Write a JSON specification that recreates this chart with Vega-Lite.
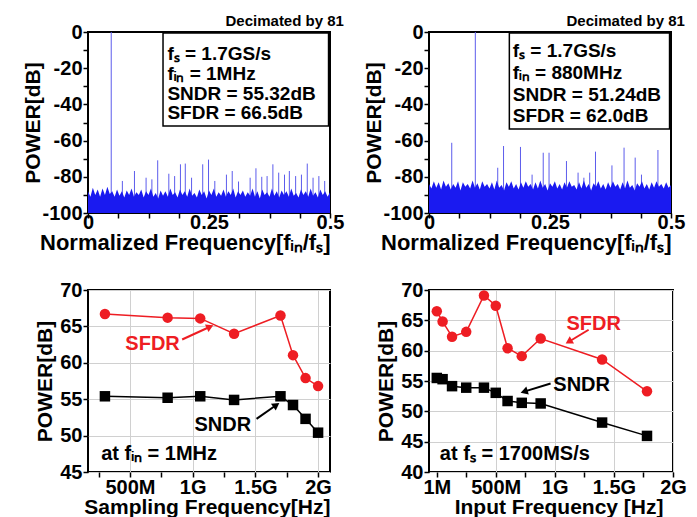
{
"$schema": "https://vega.github.io/schema/vega-lite/v6.json",
"background": "white",
"padding": {"left": 21, "top": 13, "right": 0, "bottom": 0},
"spacing": {"row": 25, "column": 17},
"columns": 2,
"datasets": {
"noise": [
{"f":0,"a":-88,"b":-84},{"f":0.005,"a":-91,"b":-86.5},{"f":0.01,"a":-86,"b":-82.5},{"f":0.015,"a":-90,"b":-86},{"f":0.02,"a":-87,"b":-83},
{"f":0.025,"a":-91,"b":-87},{"f":0.03,"a":-86.5,"b":-82},{"f":0.035,"a":-90,"b":-85.5},{"f":0.04,"a":-85.5,"b":-83.5},{"f":0.045,"a":-89.5,"b":-87},
{"f":0.05,"a":-88,"b":-84},{"f":0.055,"a":-91,"b":-86},{"f":0.06,"a":-87,"b":-82.5},{"f":0.065,"a":-90.5,"b":-87.5},{"f":0.07,"a":-88,"b":-83},
{"f":0.075,"a":-91.5,"b":-85.5},{"f":0.08,"a":-87.5,"b":-84},{"f":0.085,"a":-90,"b":-86.5},{"f":0.09,"a":-86.5,"b":-82},{"f":0.095,"a":-91,"b":-86},
{"f":0.1,"a":-88.5,"b":-83.5},{"f":0.105,"a":-90,"b":-87},{"f":0.11,"a":-87,"b":-82.5},{"f":0.115,"a":-91.5,"b":-85.5},{"f":0.12,"a":-88,"b":-84},
{"f":0.125,"a":-90,"b":-86.5},{"f":0.13,"a":-86.5,"b":-83},{"f":0.135,"a":-91,"b":-87},{"f":0.14,"a":-89,"b":-82},{"f":0.145,"a":-92,"b":-86},
{"f":0.15,"a":-87.5,"b":-84.5},{"f":0.155,"a":-90.5,"b":-87.5},{"f":0.16,"a":-88,"b":-83},{"f":0.165,"a":-91,"b":-85.5},{"f":0.17,"a":-86.5,"b":-82.5},
{"f":0.175,"a":-90,"b":-86.5},{"f":0.18,"a":-88.5,"b":-84},{"f":0.185,"a":-91.5,"b":-87},{"f":0.19,"a":-87,"b":-83},{"f":0.195,"a":-90,"b":-86},
{"f":0.2,"a":-88,"b":-82.5},{"f":0.205,"a":-91,"b":-85.5},{"f":0.21,"a":-86.5,"b":-84},{"f":0.215,"a":-90.5,"b":-87},{"f":0.22,"a":-89,"b":-83},
{"f":0.225,"a":-91.5,"b":-86.5},{"f":0.23,"a":-87,"b":-82},{"f":0.235,"a":-90,"b":-86},{"f":0.24,"a":-88,"b":-84},{"f":0.245,"a":-92,"b":-87.5},
{"f":0.25,"a":-87.5,"b":-83.5},{"f":0.255,"a":-90,"b":-85.5},{"f":0.26,"a":-86.5,"b":-82.5},{"f":0.265,"a":-91,"b":-86.5},{"f":0.27,"a":-88.5,"b":-84},
{"f":0.275,"a":-90.5,"b":-87},{"f":0.28,"a":-87,"b":-83},{"f":0.285,"a":-91,"b":-86},{"f":0.29,"a":-88,"b":-82.5},{"f":0.295,"a":-90,"b":-85.5},
{"f":0.3,"a":-86.5,"b":-84.5},{"f":0.305,"a":-91.5,"b":-87},{"f":0.31,"a":-88,"b":-83},{"f":0.315,"a":-90,"b":-86.5},{"f":0.32,"a":-87.5,"b":-82},
{"f":0.325,"a":-91,"b":-86},{"f":0.33,"a":-88.5,"b":-84},{"f":0.335,"a":-90.5,"b":-87.5},{"f":0.34,"a":-86.5,"b":-83.5},{"f":0.345,"a":-91,"b":-85.5},
{"f":0.35,"a":-88,"b":-82.5},{"f":0.355,"a":-92,"b":-86.5},{"f":0.36,"a":-87,"b":-84},{"f":0.365,"a":-90,"b":-87},{"f":0.37,"a":-88.5,"b":-83},
{"f":0.375,"a":-91,"b":-86},{"f":0.38,"a":-86.5,"b":-82.5},{"f":0.385,"a":-90.5,"b":-85.5},{"f":0.39,"a":-88,"b":-84},{"f":0.395,"a":-91.5,"b":-87},
{"f":0.4,"a":-87.5,"b":-83},{"f":0.405,"a":-90,"b":-86.5},{"f":0.41,"a":-88,"b":-82},{"f":0.415,"a":-91,"b":-86},{"f":0.42,"a":-86.5,"b":-84.5},
{"f":0.425,"a":-90.5,"b":-87.5},{"f":0.43,"a":-89,"b":-83.5},{"f":0.435,"a":-91.5,"b":-85.5},{"f":0.44,"a":-87,"b":-82.5},{"f":0.445,"a":-90,"b":-86.5},
{"f":0.45,"a":-88,"b":-84},{"f":0.455,"a":-91,"b":-87},{"f":0.46,"a":-86.5,"b":-83},{"f":0.465,"a":-90.5,"b":-86},{"f":0.47,"a":-88.5,"b":-82.5},
{"f":0.475,"a":-91.5,"b":-85.5},{"f":0.48,"a":-87,"b":-84},{"f":0.485,"a":-90,"b":-86.5},{"f":0.49,"a":-88,"b":-83},{"f":0.495,"a":-91,"b":-86},
{"f":0.5,"a":-88.5,"b":-84.5}
],
"tls": [
{"f":0.048,"p":0},{"f":0.071,"p":-82.3},{"f":0.096,"p":-76.8},{"f":0.12,"p":-80.5},{"f":0.132,"p":-81.4},{"f":0.144,"p":-70.9},
{"f":0.167,"p":-78.3},{"f":0.179,"p":-79.6},{"f":0.191,"p":-73.1},{"f":0.201,"p":-72.7},{"f":0.214,"p":-80.5},{"f":0.237,"p":-73.1},
{"f":0.249,"p":-70.5},{"f":0.262,"p":-82.3},{"f":0.286,"p":-78.8},{"f":0.298,"p":-76.8},{"f":0.311,"p":-82.6},{"f":0.335,"p":-80.5},
{"f":0.347,"p":-75.3},{"f":0.359,"p":-80},{"f":0.37,"p":-79.6},{"f":0.382,"p":-73.1},{"f":0.394,"p":-77.7},{"f":0.406,"p":-78.8},
{"f":0.416,"p":-76.8},{"f":0.429,"p":-79.6},{"f":0.441,"p":-78.8},{"f":0.453,"p":-72.7},{"f":0.465,"p":-80.5},{"f":0.477,"p":-79.6},
{"f":0.489,"p":-82.3}
],
"trs": [
{"f":0.047,"p":-61.2},{"f":0.0957,"p":0},{"f":0.142,"p":-75},{"f":0.154,"p":-63},{"f":0.189,"p":-63.5},{"f":0.213,"p":-78.8},
{"f":0.236,"p":-66.7},{"f":0.248,"p":-66.7},{"f":0.284,"p":-71.3},{"f":0.308,"p":-77.7},{"f":0.32,"p":-80.5},{"f":0.332,"p":-77.7},
{"f":0.344,"p":-66.1},{"f":0.378,"p":-73.7},{"f":0.403,"p":-63.9},{"f":0.426,"p":-69.4},{"f":0.439,"p":-78.8},{"f":0.473,"p":-65.2}
],
"tlt": [
{"t":"fₛ = 1.7GS/s","f":0.164,"p":-12.2},{"t":"fᵢₙ = 1MHz","f":0.164,"p":-23.2},
{"t":"SNDR = 55.32dB","f":0.164,"p":-34.3},{"t":"SFDR = 66.5dB","f":0.164,"p":-44.8}
],
"trt": [
{"t":"fₛ = 1.7GS/s","f":0.173,"p":-10.5},{"t":"fᵢₙ = 880MHz","f":0.173,"p":-22.5},
{"t":"SNDR = 51.24dB","f":0.173,"p":-34.8},{"t":"SFDR = 62.0dB","f":0.173,"p":-46.4}
],
"bl": [
{"fs":0.3,"m":"SFDR","v":66.7},{"fs":0.8,"m":"SFDR","v":66.2},{"fs":1.06,"m":"SFDR","v":66.1},{"fs":1.33,"m":"SFDR","v":64.0},
{"fs":1.7,"m":"SFDR","v":66.5},{"fs":1.8,"m":"SFDR","v":61.05},{"fs":1.9,"m":"SFDR","v":57.9},{"fs":2.0,"m":"SFDR","v":56.8},
{"fs":0.3,"m":"SNDR","v":55.4},{"fs":0.8,"m":"SNDR","v":55.2},{"fs":1.06,"m":"SNDR","v":55.4},{"fs":1.33,"m":"SNDR","v":54.9},
{"fs":1.7,"m":"SNDR","v":55.4},{"fs":1.8,"m":"SNDR","v":54.2},{"fs":1.9,"m":"SNDR","v":52.3},{"fs":2.0,"m":"SNDR","v":50.4}
],
"br": [
{"fin":0.001,"m":"SFDR","v":66.5},{"fin":0.05,"m":"SFDR","v":64.8},{"fin":0.13,"m":"SFDR","v":62.3},{"fin":0.25,"m":"SFDR","v":63.1},
{"fin":0.4,"m":"SFDR","v":69.1},{"fin":0.5,"m":"SFDR","v":67.4},{"fin":0.6,"m":"SFDR","v":60.4},{"fin":0.72,"m":"SFDR","v":59.1},
{"fin":0.88,"m":"SFDR","v":62.0},{"fin":1.4,"m":"SFDR","v":58.55},{"fin":1.78,"m":"SFDR","v":53.3},
{"fin":0.001,"m":"SNDR","v":55.5},{"fin":0.05,"m":"SNDR","v":55.3},{"fin":0.13,"m":"SNDR","v":54.15},{"fin":0.25,"m":"SNDR","v":53.9},
{"fin":0.4,"m":"SNDR","v":53.9},{"fin":0.5,"m":"SNDR","v":53.05},{"fin":0.6,"m":"SNDR","v":51.7},{"fin":0.72,"m":"SNDR","v":51.4},
{"fin":0.88,"m":"SNDR","v":51.3},{"fin":1.4,"m":"SNDR","v":48.15},{"fin":1.78,"m":"SNDR","v":45.95}
],
"blt": [{"t":"SFDR","m":"SFDR","x":0.68,"y":62.6},{"t":"SNDR","m":"SNDR","x":1.24,"y":51.5}],
"brt": [{"t":"SFDR","m":"SFDR","x":1.328,"y":64.4},{"t":"SNDR","m":"SNDR","x":1.227,"y":54.4}],
"bla": [{"m":"SFDR","x1":0.916,"y1":63.2,"x2":1.138,"y2":64.95},{"m":"SNDR","x1":1.509,"y1":52.3,"x2":1.667,"y2":54.2}],
"bra": [{"m":"SFDR","x1":1.286,"y1":63.45,"x2":1.118,"y2":61.47},{"m":"SNDR","x1":0.964,"y1":54.6,"x2":0.74,"y2":53.25}],
"blc": [{"t":"at fᵢₙ = 1MHz","x":0.27,"y":47.5}],
"brc": [{"t":"at fₛ = 1700MS/s","x":0.027,"y":43.0}]
},
"concat": [
{"width": 242, "height": 181, "title": {"text": "Decimated by 81", "offset": -7, "anchor": "end", "fontSize": 15, "fontWeight": "bold"},
 "layer": [
  {"data": {"name": "tls"}, "mark": {"type": "rule", "color": "#5c5cec", "strokeWidth": 1},
   "encoding": {
    "x": {"field": "f", "type": "quantitative", "scale": {"domain": [0, 0.5], "nice": false},
      "axis": {"values": [0,0.0625,0.125,0.1875,0.25,0.3125,0.375,0.4375,0.5], "tickCount": 40, "labelExpr": "datum.value == 0 ? '0' : datum.value == 0.25 ? '0.25' : datum.value == 0.5 ? '0.5' : ''", "title": "Normalized Frequency[fᵢₙ/fₛ]", "titleFontSize": 22, "titleX": 242, "titleAlign": "right", "labelFlush": false, "labelOverlap": false, "labelPadding": -6, "titlePadding": 0}},
    "y": {"field": "p", "type": "quantitative", "scale": {"domain": [-100, 0], "nice": false},
      "axis": {"values": [-100,-90,-80,-70,-60,-50,-40,-30,-20,-10,0], "tickCount": 40, "labelExpr": "datum.value % 20 == 0 ? (datum.value < 0 ? '-' + abs(datum.value) : '0') : ''", "title": "POWER[dB]", "labelOverlap": false, "titlePadding": -2}},
    "y2": {"datum": -95}}},
  {"data": {"name": "noise"}, "mark": {"type": "area", "color": "#1a1af0", "opacity": 1},
   "encoding": {"x": {"field": "f", "type": "quantitative"}, "y": {"field": "a", "type": "quantitative"}, "y2": {"datum": -100}}},
  {"data": {"values": [{}]}, "mark": {"type": "rect", "fill": "white", "stroke": "black", "strokeWidth": 1.5},
   "encoding": {"x": {"datum": 0.155}, "x2": {"datum": 0.497}, "y": {"datum": -52}, "y2": {"datum": -0.5}}},
  {"data": {"name": "tlt"}, "mark": {"type": "text", "align": "left", "baseline": "middle", "fontSize": 19, "fontWeight": "bold", "color": "black"},
   "encoding": {"x": {"field": "f", "type": "quantitative"}, "y": {"field": "p", "type": "quantitative"}, "text": {"field": "t"}}}
 ]},
{"width": 242, "height": 181, "title": {"text": "Decimated by 81", "offset": -7, "anchor": "end", "fontSize": 15, "fontWeight": "bold"},
 "layer": [
  {"data": {"name": "trs"}, "mark": {"type": "rule", "color": "#5c5cec", "strokeWidth": 1},
   "encoding": {
    "x": {"field": "f", "type": "quantitative", "scale": {"domain": [0, 0.5], "nice": false},
      "axis": {"values": [0,0.0625,0.125,0.1875,0.25,0.3125,0.375,0.4375,0.5], "tickCount": 40, "labelExpr": "datum.value == 0 ? '0' : datum.value == 0.25 ? '0.25' : datum.value == 0.5 ? '0.5' : ''", "title": "Normalized Frequency[fᵢₙ/fₛ]", "titleFontSize": 22, "titleX": 242, "titleAlign": "right", "labelFlush": false, "labelOverlap": false, "labelPadding": -6, "titlePadding": 0}},
    "y": {"field": "p", "type": "quantitative", "scale": {"domain": [-100, 0], "nice": false},
      "axis": {"values": [-100,-90,-80,-70,-60,-50,-40,-30,-20,-10,0], "tickCount": 40, "labelExpr": "datum.value % 20 == 0 ? (datum.value < 0 ? '-' + abs(datum.value) : '0') : ''", "title": "POWER[dB]", "labelOverlap": false, "titlePadding": -2}},
    "y2": {"datum": -95}}},
  {"data": {"name": "noise"}, "mark": {"type": "area", "color": "#1a1af0", "opacity": 1},
   "encoding": {"x": {"field": "f", "type": "quantitative"}, "y": {"field": "b", "type": "quantitative"}, "y2": {"datum": -100}}},
  {"data": {"values": [{}]}, "mark": {"type": "rect", "fill": "white", "stroke": "black", "strokeWidth": 1.5},
   "encoding": {"x": {"datum": 0.166}, "x2": {"datum": 0.497}, "y": {"datum": -53.6}, "y2": {"datum": -0.5}}},
  {"data": {"name": "trt"}, "mark": {"type": "text", "align": "left", "baseline": "middle", "fontSize": 19, "fontWeight": "bold", "color": "black"},
   "encoding": {"x": {"field": "f", "type": "quantitative"}, "y": {"field": "p", "type": "quantitative"}, "text": {"field": "t"}}}
 ]},
{"width": 242, "height": 182,
 "layer": [
  {"data": {"name": "bl"}, "mark": {"type": "line", "strokeWidth": 1.5},
   "encoding": {
    "x": {"field": "fs", "type": "quantitative", "scale": {"domain": [0.165, 2.095], "nice": false, "zero": false},
      "axis": {"values": [0.25,0.5,0.75,1,1.25,1.5,1.75,2], "tickCount": 40, "labelExpr": "datum.value == 0.5 ? '500M' : datum.value == 1 ? '1G' : datum.value == 1.5 ? '1.5G' : datum.value == 2 ? '2G' : ''", "title": "Sampling Frequency[Hz]", "titleX": 242, "titleAlign": "right", "labelFlush": false, "labelOverlap": false, "labelPadding": 0, "titlePadding": -1, "grid": true, "gridColor": "#d0d0d0", "gridOpacity": {"condition": {"test": "datum.value % 0.5 == 0", "value": 1}, "value": 0}}},
    "y": {"field": "v", "type": "quantitative", "scale": {"domain": [45, 70], "nice": false, "zero": false},
      "axis": {"values": [45,50,55,60,65,70], "tickCount": 40, "format": "d", "title": "POWER[dB]", "labelOverlap": false, "titlePadding": 4, "grid": true, "gridColor": "#d0d0d0"}},
    "color": {"field": "m", "type": "nominal", "scale": {"domain": ["SFDR", "SNDR"], "range": ["#ee1d23", "black"]}, "legend": null}}},
  {"data": {"name": "bl"}, "mark": {"type": "point", "filled": true, "opacity": 1, "size": 110},
   "encoding": {"x": {"field": "fs", "type": "quantitative"}, "y": {"field": "v", "type": "quantitative"},
    "color": {"field": "m", "type": "nominal", "legend": null},
    "shape": {"field": "m", "type": "nominal", "scale": {"domain": ["SFDR", "SNDR"], "range": ["circle", "square"]}, "legend": null}}},
  {"data": {"name": "bla"}, "mark": {"type": "rule", "strokeWidth": 2},
   "encoding": {"x": {"field": "x1", "type": "quantitative"}, "y": {"field": "y1", "type": "quantitative"}, "x2": {"field": "x2"}, "y2": {"field": "y2"}, "color": {"field": "m", "type": "nominal", "legend": null}}},
  {"data": {"name": "bla"}, "transform": [{"filter": "datum.m == 'SFDR'"}], "mark": {"type": "point", "shape": "triangle-up", "filled": true, "opacity": 1, "size": 70, "angle": 65},
   "encoding": {"x": {"field": "x2", "type": "quantitative"}, "y": {"field": "y2", "type": "quantitative"}, "color": {"field": "m", "type": "nominal", "legend": null}}},
  {"data": {"name": "bla"}, "transform": [{"filter": "datum.m == 'SNDR'"}], "mark": {"type": "point", "shape": "triangle-up", "filled": true, "opacity": 1, "size": 70, "angle": 55},
   "encoding": {"x": {"field": "x2", "type": "quantitative"}, "y": {"field": "y2", "type": "quantitative"}, "color": {"field": "m", "type": "nominal", "legend": null}}},
  {"data": {"name": "blt"}, "mark": {"type": "text", "align": "center", "baseline": "middle", "fontSize": 20, "fontWeight": "bold"},
   "encoding": {"x": {"field": "x", "type": "quantitative"}, "y": {"field": "y", "type": "quantitative"}, "text": {"field": "t"}, "color": {"field": "m", "type": "nominal", "legend": null}}},
  {"data": {"name": "blc"}, "mark": {"type": "text", "align": "left", "baseline": "middle", "fontSize": 20, "fontWeight": "bold", "color": "black"},
   "encoding": {"x": {"field": "x", "type": "quantitative"}, "y": {"field": "y", "type": "quantitative"}, "text": {"field": "t"}}}
 ]},
{"width": 244, "height": 182,
 "layer": [
  {"data": {"name": "br"}, "mark": {"type": "line", "strokeWidth": 1.5},
   "encoding": {
    "x": {"field": "fin", "type": "quantitative", "scale": {"domain": [-0.065, 2.0], "nice": false, "zero": false},
      "axis": {"values": [0.001,0.25,0.5,0.75,1,1.25,1.5,1.75,2], "tickCount": 40, "labelExpr": "datum.value == 0.001 ? '1M' : datum.value == 0.5 ? '500M' : datum.value == 1 ? '1G' : datum.value == 1.5 ? '1.5G' : datum.value == 2 ? '2G' : ''", "title": "Input Frequency [Hz]", "titleX": 234, "titleAlign": "right", "labelFlush": false, "labelOverlap": false, "labelPadding": 0, "titlePadding": -1, "grid": true, "gridColor": "#d0d0d0", "gridOpacity": {"condition": {"test": "datum.value % 0.5 == 0", "value": 1}, "value": 0}}},
    "y": {"field": "v", "type": "quantitative", "scale": {"domain": [40, 70], "nice": false, "zero": false},
      "axis": {"values": [40,45,50,55,60,65,70], "tickCount": 40, "format": "d", "title": "POWER[dB]", "labelOverlap": false, "titlePadding": 4, "grid": true, "gridColor": "#d0d0d0"}},
    "color": {"field": "m", "type": "nominal", "scale": {"domain": ["SFDR", "SNDR"], "range": ["#ee1d23", "black"]}, "legend": null}}},
  {"data": {"name": "br"}, "mark": {"type": "point", "filled": true, "opacity": 1, "size": 110},
   "encoding": {"x": {"field": "fin", "type": "quantitative"}, "y": {"field": "v", "type": "quantitative"},
    "color": {"field": "m", "type": "nominal", "legend": null},
    "shape": {"field": "m", "type": "nominal", "scale": {"domain": ["SFDR", "SNDR"], "range": ["circle", "square"]}, "legend": null}}},
  {"data": {"name": "bra"}, "mark": {"type": "rule", "strokeWidth": 2},
   "encoding": {"x": {"field": "x1", "type": "quantitative"}, "y": {"field": "y1", "type": "quantitative"}, "x2": {"field": "x2"}, "y2": {"field": "y2"}, "color": {"field": "m", "type": "nominal", "legend": null}}},
  {"data": {"name": "bra"}, "transform": [{"filter": "datum.m == 'SFDR'"}], "mark": {"type": "point", "shape": "triangle-up", "filled": true, "opacity": 1, "size": 70, "angle": 239},
   "encoding": {"x": {"field": "x2", "type": "quantitative"}, "y": {"field": "y2", "type": "quantitative"}, "color": {"field": "m", "type": "nominal", "legend": null}}},
  {"data": {"name": "bra"}, "transform": [{"filter": "datum.m == 'SNDR'"}], "mark": {"type": "point", "shape": "triangle-up", "filled": true, "opacity": 1, "size": 70, "angle": 253},
   "encoding": {"x": {"field": "x2", "type": "quantitative"}, "y": {"field": "y2", "type": "quantitative"}, "color": {"field": "m", "type": "nominal", "legend": null}}},
  {"data": {"name": "brt"}, "mark": {"type": "text", "align": "center", "baseline": "middle", "fontSize": 20, "fontWeight": "bold"},
   "encoding": {"x": {"field": "x", "type": "quantitative"}, "y": {"field": "y", "type": "quantitative"}, "text": {"field": "t"}, "color": {"field": "m", "type": "nominal", "legend": null}}},
  {"data": {"name": "brc"}, "mark": {"type": "text", "align": "left", "baseline": "middle", "fontSize": 20, "fontWeight": "bold", "color": "black"},
   "encoding": {"x": {"field": "x", "type": "quantitative"}, "y": {"field": "y", "type": "quantitative"}, "text": {"field": "t"}}}
 ]}
],
"config": {
 "font": "Liberation Sans",
 "view": {"stroke": "black", "strokeWidth": 2},
 "axis": {"domain": false, "grid": false, "ticks": true, "tickColor": "black", "tickWidth": 1.5, "tickSize": 5, "labelFontSize": 20, "labelFontWeight": "bold", "labelColor": "black", "labelPadding": 1, "labelOverlap": false, "titleFontSize": 21, "titleFontWeight": "bold", "titleColor": "black"},
 "title": {"fontSize": 15, "fontWeight": "bold", "anchor": "end", "offset": 3, "color": "black"}
}
}
